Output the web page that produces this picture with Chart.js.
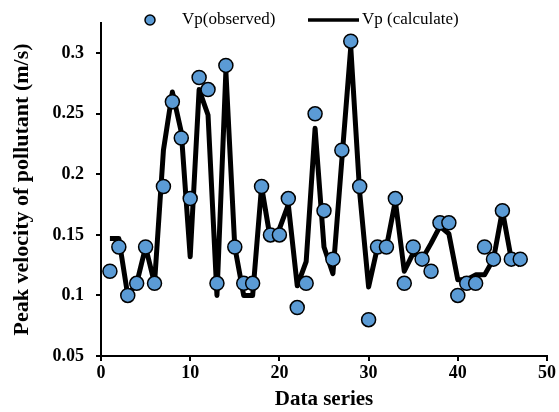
<!DOCTYPE html>
<html>
<head>
<meta charset="utf-8">
<script src="https://cdn.jsdelivr.net/npm/chart.js@4"></script>
<style>
  html, body { margin: 0; padding: 0; background: #fff; }
  #wrap { width: 559px; height: 412px; }
</style>
</head>
<body>
<div id="wrap"><canvas id="chart" width="559" height="412"></canvas></div>
<script>
// data series index
const series = [1,2,3,4,5,6,7,8,9,10,11,12,13,14,15,16,17,18,19,20,21,22,23,24,25,26,27,28,29,30,31,32,33,34,35,36,37,38,39,40,41,42,43,44,45,46,47];

const observed = [0.12,0.14,0.10,0.11,0.14,0.11,0.19,0.26,0.23,0.18,0.28,0.27,0.11,0.29,0.14,0.11,0.11,0.19,0.15,0.15,
  0.18,0.09,0.11,0.25,0.17,0.13,0.22,0.31,0.19,0.08,0.14,0.14,0.18,0.11,0.14,0.13,0.12,0.16,0.16,0.10,
  0.11,0.11,0.14,0.13,0.17,0.13,0.13];

const calculated = [0.147,0.147,0.10,0.11,0.14,0.11,0.22,0.268,0.235,0.132,0.27,0.249,0.10,0.285,0.14,0.10,0.10,0.19,0.146,0.155,
  0.175,0.108,0.128,0.238,0.14,0.118,0.212,0.305,0.185,0.107,0.14,0.14,0.178,0.12,0.135,0.13,0.143,0.157,0.151,0.113,
  0.113,0.117,0.117,0.13,0.17,0.13,0.125];

const xTicks = [0,10,20,30,40,50];
const yTicks = [0.05,0.1,0.15,0.2,0.25,0.3];

const obsLabel = 'Vp(observed)';
const calcLabel = 'Vp (calculate)';

const serif = "'Liberation Serif', 'Times New Roman', serif";

// legend drawn by hand so it sits where the original one does
const legendPlugin = {
  id: 'topLegend',
  afterDraw(c){
    const ctx = c.ctx;
    ctx.save();
    ctx.font = '17px ' + serif;
    ctx.textBaseline = 'middle';
    ctx.beginPath();
    ctx.arc(150, 20, 5, 0, Math.PI*2);
    ctx.fillStyle = '#5B9BD5';
    ctx.fill();
    ctx.lineWidth = 1.5;
    ctx.strokeStyle = '#000';
    ctx.stroke();
    ctx.fillStyle = '#000';
    ctx.fillText(obsLabel, 182, 20);
    ctx.beginPath();
    ctx.moveTo(308, 20);
    ctx.lineTo(359, 20);
    ctx.lineWidth = 3.5;
    ctx.stroke();
    ctx.fillText(calcLabel, 362, 20);
    ctx.restore();
  }
};

const ctx = document.getElementById('chart');

new Chart(ctx, {
  type: 'scatter',
  data: {
    datasets: [
      {
        label: obsLabel,
        data: series.map((x,i)=>({x, y: observed[i]})),
        showLine: false,
        pointRadius: 7,
        pointHoverRadius: 7,
        pointBackgroundColor: '#5B9BD5',
        pointBorderColor: '#000',
        pointBorderWidth: 1.5
      },
      {
        label: calcLabel,
        type: 'line',
        data: series.map((x,i)=>({x, y: calculated[i]})),
        borderColor: '#000',
        borderWidth: 5,
        borderJoinStyle: 'round',
        pointRadius: 0,
        tension: 0,
        fill: false
      }
    ]
  },
  options: {
    responsive: false,
    animation: false,
    layout: { padding: { top: 23, right: 12, left: 0, bottom: 0 } },
    plugins: {
      legend: { display: false },
      tooltip: { enabled: false }
    },
    scales: {
      x: {
        type: 'linear',
        min: 0, max: 50,
        afterBuildTicks: s => { s.ticks = xTicks.map(v=>({value:v})); },
        afterFit: s => { s.height = 56; },
        grid: { drawOnChartArea: false, drawTicks: true, tickLength: 5, color: '#000', lineWidth: 2 },
        border: { display: true, color: '#000', width: 2 },
        ticks: { color: '#000', padding: 2, maxRotation: 0, font: { family: serif, size: 18, weight: 'bold' } },
        title: { display: true, text: 'Data series', color: '#000', padding: 0,
          font: { family: serif, size: 21, weight: 'bold', lineHeight: 1.2 } }
      },
      y: {
        min: 0.05, max: 0.325,
        afterBuildTicks: s => { s.ticks = yTicks.map(v=>({value:v})); },
        afterFit: s => { s.width = 101; },
        grid: { drawOnChartArea: false, drawTicks: true, tickLength: 5, color: '#000', lineWidth: 2 },
        border: { display: true, color: '#000', width: 2 },
        ticks: { color: '#000', padding: 12, callback: v => String(v), font: { family: serif, size: 18, weight: 'bold' } },
        title: { display: true, text: 'Peak velocity of pollutant (m/s)', color: '#000', padding: { top: 9, bottom: 0 },
          font: { family: serif, size: 22, weight: 'bold', lineHeight: 1.2 } }
      }
    }
  },
  plugins: [legendPlugin]
});
</script>
</body>
</html>
